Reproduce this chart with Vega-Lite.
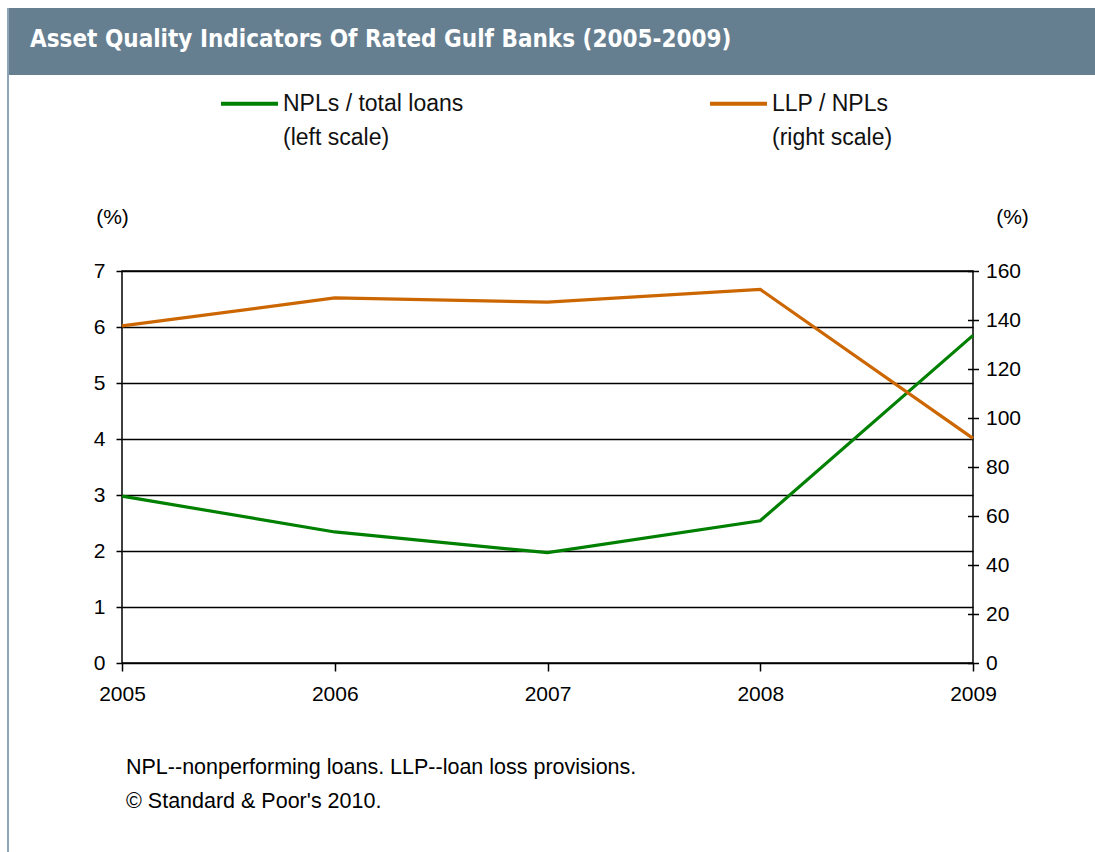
{
  "$schema": "https://vega.github.io/schema/vega-lite/v6.json",
  "background": "white",
  "padding": {"left": 7, "top": 8, "right": 0, "bottom": 0},
  "config": {
    "font": "Liberation Sans",
    "view": {"stroke": null}
  },
  "bounds": "flush",
  "spacing": 0,
  "hconcat": [
    {
      "width": 2,
      "height": 844,
      "data": {"values": [{}]},
      "mark": {"type": "rect", "color": "#8fa4b5"},
      "encoding": {}
    },
    {
      "bounds": "flush",
      "spacing": 196,
      "vconcat": [
        {
          "width": 1086,
          "height": 67,
          "data": {"values": [{}]},
          "mark": {"type": "rect", "color": "#657e90"},
          "encoding": {},
          "title": {
            "text": "Asset Quality Indicators Of Rated Gulf Banks (2005-2009)",
            "anchor": "start",
            "frame": "group",
            "offset": -63,
            "dx": 21,
            "baseline": "alphabetic",
            "color": "white",
            "font": "DejaVu Sans Condensed",
            "fontWeight": "bold",
            "fontSize": 24
          }
        },
        {
          "bounds": "flush",
          "spacing": 112,
          "hconcat": [
            {
              "width": 1,
              "height": 1,
              "data": {"values": [{}]},
              "mark": {"type": "rect", "opacity": 0},
              "encoding": {}
            },
            {
              "width": 851,
              "height": 392,
              "view": {"stroke": "black", "strokeWidth": 1.5},
              "title": {
                "text": ["NPL--nonperforming loans. LLP--loan loss provisions.", "© Standard & Poor's 2010."],
                "orient": "bottom",
                "anchor": "start",
                "frame": "group",
                "offset": 53,
                "dx": 4,
                "fontSize": 21.5,
                "fontWeight": "normal",
                "lineHeight": 34,
                "color": "#000"
              },
              "data": {
                "values": [
                  {"year": 2005, "npl": 2.98, "llp": 137.6},
                  {"year": 2006, "npl": 2.34, "llp": 149.0},
                  {"year": 2007, "npl": 1.97, "llp": 147.3},
                  {"year": 2008, "npl": 2.54, "llp": 152.5},
                  {"year": 2009, "npl": 5.85, "llp": 91.7}
                ]
              },
              "encoding": {
                "x": {
                  "field": "year",
                  "type": "quantitative",
                  "scale": {"domain": [2005, 2009], "nice": false, "zero": false},
                  "axis": {
                    "values": [2005, 2006, 2007, 2008, 2009],
                    "format": "d",
                    "title": null,
                    "grid": false,
                    "domain": false,
                    "tickColor": "#000",
                    "tickSize": 8,
                    "tickWidth": 1.5,
                    "labelFontSize": 21,
                    "labelColor": "#000",
                    "labelPadding": 12,
                    "labelFlush": false
                  }
                }
              },
              "layer": [
                {
                  "mark": {"type": "line", "strokeWidth": 3.2},
                  "encoding": {
                    "y": {
                      "field": "npl",
                      "type": "quantitative",
                      "scale": {"domain": [0, 7], "nice": false},
                      "axis": {
                        "orient": "left",
                        "values": [0, 1, 2, 3, 4, 5, 6, 7],
                        "grid": true,
                        "gridColor": "#000",
                        "gridWidth": 1.5,
                        "gridOpacity": 1,
                        "domain": false,
                        "tickColor": "#000",
                        "tickSize": 6,
                        "tickWidth": 1.5,
                        "labelFontSize": 21,
                        "labelColor": "#000",
                        "labelPadding": 11,
                        "title": "(%)",
                        "titleAngle": 0,
                        "titleX": -10,
                        "titleY": -54,
                        "titleAlign": "center",
                        "titleBaseline": "middle",
                        "titleFontSize": 21,
                        "titleFontWeight": "normal",
                        "titleColor": "#000"
                      }
                    },
                    "color": {
                      "datum": "NPLs / total loans|(left scale)",
                      "type": "nominal",
                      "scale": {
                        "domain": ["NPLs / total loans|(left scale)", "LLP / NPLs|(right scale)"],
                        "range": ["#008000", "#cc6600"]
                      },
                      "legend": {
                        "orient": "none",
                        "legendX": 212,
                        "legendY": 65,
                        "direction": "horizontal",
                        "title": null,
                        "padding": 0,
                        "symbolType": "stroke",
                        "symbolSize": 3249,
                        "symbolStrokeWidth": 4,
                        "labelFontSize": 23,
                        "labelColor": "#111",
                        "labelExpr": "split(datum.label, '|')",
                        "labelOffset": 3,
                        "labelLimit": 400,
                        "columnPadding": 238,
                        "encode": {
                          "labels": {"update": {"lineHeight": {"value": 34}}}
                        }
                      }
                    }
                  }
                },
                {
                  "mark": {"type": "line", "strokeWidth": 3.2},
                  "encoding": {
                    "y": {
                      "field": "llp",
                      "type": "quantitative",
                      "scale": {"domain": [0, 160], "nice": false},
                      "axis": {
                        "orient": "right",
                        "values": [0, 20, 40, 60, 80, 100, 120, 140, 160],
                        "grid": false,
                        "domain": false,
                        "offset": -5.5,
                        "tickColor": "#000",
                        "tickSize": 11,
                        "tickWidth": 1.5,
                        "labelFontSize": 21,
                        "labelColor": "#000",
                        "labelPadding": 7,
                        "title": "(%)",
                        "titleAngle": 0,
                        "titleX": 44.5,
                        "titleY": -54,
                        "titleAlign": "center",
                        "titleBaseline": "middle",
                        "titleFontSize": 21,
                        "titleFontWeight": "normal",
                        "titleColor": "#000"
                      }
                    },
                    "color": {"datum": "LLP / NPLs|(right scale)", "type": "nominal"}
                  }
                }
              ],
              "resolve": {"scale": {"y": "independent"}}
            }
          ]
        }
      ]
    }
  ]
}
